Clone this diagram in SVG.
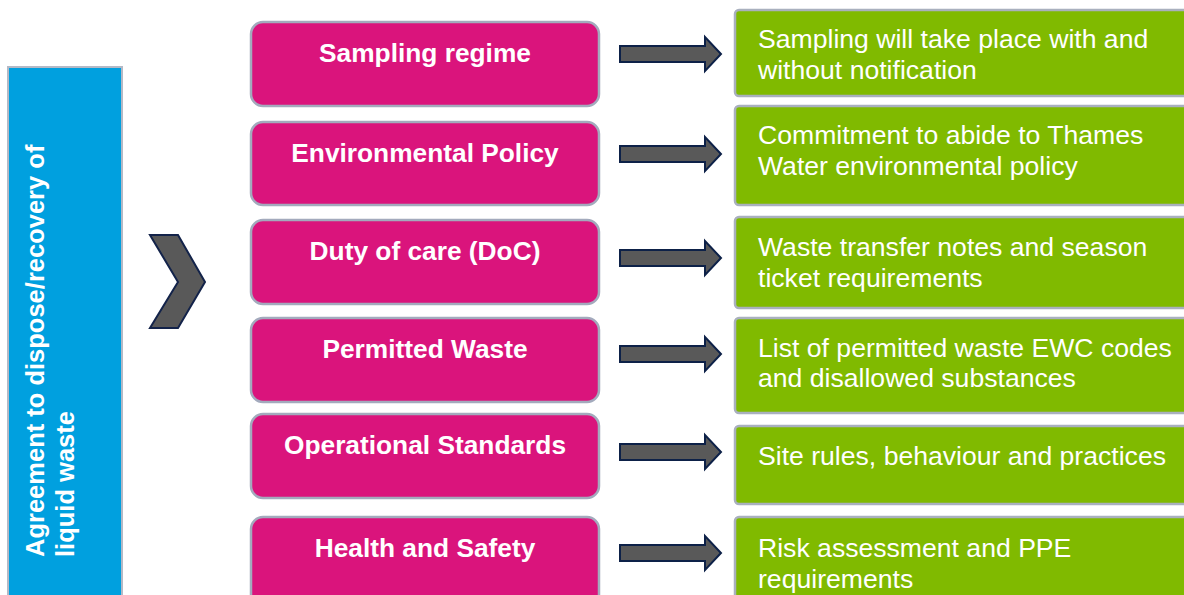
<svg xmlns="http://www.w3.org/2000/svg" width="1184" height="595" viewBox="0 0 1184 595">
<defs>
<style>
.pink{fill:#da147c;stroke:#a3aabd;stroke-width:2.5}
.green{fill:#80ba00;stroke:#a9b0be;stroke-width:2.5}
.ptxt{font-family:"Liberation Sans",Arial,sans-serif;font-weight:bold;font-size:26.3px;fill:#ffffff;text-anchor:middle}
.gtxt{font-family:"Liberation Sans",Arial,sans-serif;font-size:26.6px;fill:#ffffff}
.arrow{fill:#595959;stroke:#0d2148;stroke-width:2;stroke-linejoin:miter}
</style>
<path id="arr" d="M620,-8 H705 V-17 L721,0 L705,17 V8 H620 Z"/>
</defs>
<rect width="1184" height="595" fill="#ffffff"/>

<g id="agreement">
<rect x="8" y="67" width="114" height="540" fill="#00a0df" stroke="#b4b9c6" stroke-width="2"/>
<text transform="translate(44,557) rotate(-90)" font-family="Liberation Sans, Arial, sans-serif" font-weight="bold" font-size="25.5" fill="#ffffff">Agreement to dispose/recovery of</text>
<text transform="translate(74,557) rotate(-90)" font-family="Liberation Sans, Arial, sans-serif" font-weight="bold" font-size="25.5" fill="#ffffff">liquid waste</text>
</g>

<g id="chevron">
<polygon points="150,235 178,235 205,282 178,328 150,328 178,282" fill="#595959" stroke="#13234a" stroke-width="2"/>
</g>

<g id="n-sampling"><rect class="pink" x="251" y="22" width="348" height="84" rx="12"/><text class="ptxt" x="425" y="62">Sampling regime</text></g>
<g id="n-env"><rect class="pink" x="251" y="122" width="348" height="83" rx="12"/><text class="ptxt" x="425" y="162">Environmental Policy</text></g>
<g id="n-doc"><rect class="pink" x="251" y="220" width="348" height="84" rx="12"/><text class="ptxt" x="425" y="260">Duty of care (DoC)</text></g>
<g id="n-permitted"><rect class="pink" x="251" y="318" width="348" height="84" rx="12"/><text class="ptxt" x="425" y="358">Permitted Waste</text></g>
<g id="n-operational"><rect class="pink" x="251" y="414" width="348" height="84" rx="12"/><text class="ptxt" x="425" y="454">Operational Standards</text></g>
<g id="n-health"><rect class="pink" x="251" y="517" width="348" height="90" rx="12"/><text class="ptxt" x="425" y="557">Health and Safety</text></g>

<g id="d-sampling"><rect class="green" x="735" y="10" width="460" height="86" rx="4"/><text class="gtxt" x="758" y="48">Sampling will take place with and</text><text class="gtxt" x="758" y="79">without notification</text></g>
<g id="d-env"><rect class="green" x="735" y="106" width="460" height="99" rx="4"/><text class="gtxt" x="758" y="144">Commitment to abide to Thames</text><text class="gtxt" x="758" y="175">Water environmental policy</text></g>
<g id="d-doc"><rect class="green" x="735" y="217" width="460" height="91" rx="4"/><text class="gtxt" x="758" y="256">Waste transfer notes and season</text><text class="gtxt" x="758" y="287">ticket requirements</text></g>
<g id="d-permitted"><rect class="green" x="735" y="318" width="460" height="95" rx="4"/><text class="gtxt" x="758" y="357">List of permitted waste EWC codes</text><text class="gtxt" x="758" y="387">and disallowed substances</text></g>
<g id="d-operational"><rect class="green" x="735" y="426" width="460" height="78" rx="4"/><text class="gtxt" x="758" y="465">Site rules, behaviour and practices</text></g>
<g id="d-health"><rect class="green" x="735" y="517" width="460" height="90" rx="4"/><text class="gtxt" x="758" y="557">Risk assessment and PPE</text><text class="gtxt" x="758" y="588">requirements</text></g>

<g id="connectors">
<use href="#arr" class="arrow" transform="translate(0,54)"/>
<use href="#arr" class="arrow" transform="translate(0,154)"/>
<use href="#arr" class="arrow" transform="translate(0,258)"/>
<use href="#arr" class="arrow" transform="translate(0,354)"/>
<use href="#arr" class="arrow" transform="translate(0,452)"/>
<use href="#arr" class="arrow" transform="translate(0,553)"/>
</g>
</svg>
